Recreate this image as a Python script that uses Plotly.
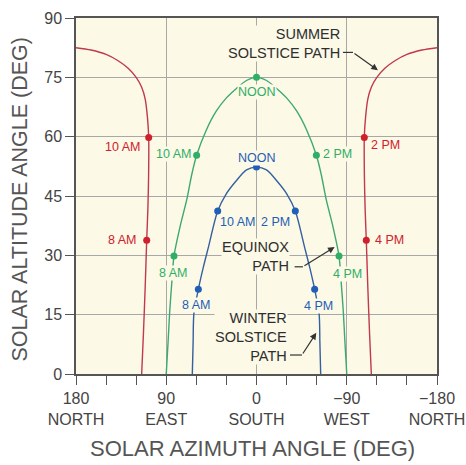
import plotly.graph_objects as go

# ---------------- data ----------------
# Summer solstice path: morning (east) branch and afternoon (west) branch
summer_east_az = [180, 165, 150, 138, 128, 120, 114.5, 111, 108.8, 107.5, 107.6, 108.3, 109.5, 111, 112.8, 114.5]
summer_east_alt = [82.5, 81.9, 80.8, 79.2, 77.3, 75, 72.5, 69.5, 65, 59.8, 50, 42, 33.8, 22, 10, 0]
summer_west_az = [-180, -165, -150, -138, -128, -120, -114.5, -111, -108.8, -107.5, -107.6, -108.3, -109.5, -111, -112.8, -114.5]
summer_west_alt = [82.5, 81.9, 80.8, 79.2, 77.3, 75, 72.5, 69.5, 65, 59.8, 50, 42, 33.8, 22, 10, 0]

# Equinox path
equinox_az = [90, 88.2, 86.5, 84.5, 82.3, 76, 69.6, 64.5, 59.7, 50, 40, 30, 20, 10, 0,
              -10, -20, -30, -40, -50, -59.7, -64.5, -69.6, -76, -82.3, -84.5, -86.5, -88.2, -90]
equinox_alt = [0, 8, 16, 23, 29.8, 37.5, 44, 50.5, 55.3, 61.7, 66.5, 69.8, 72.2, 74.2, 75,
               74.2, 72.2, 69.8, 66.5, 61.7, 55.3, 50.5, 44, 37.5, 29.8, 23, 16, 8, 0]

# Winter solstice path
winter_az = [64, 63.2, 62.4, 58, 53, 48, 38.7, 30, 21, 10, 0,
             -10, -21, -30, -38.7, -48, -53, -58, -62.4, -63.2, -64]
winter_alt = [0, 8, 15.4, 21.4, 27, 32, 41.2, 45.6, 48.6, 51.6, 52.3,
              51.6, 48.6, 45.6, 41.2, 32, 27, 21.4, 15.4, 8, 0]

# Hour markers
summer_mk_az = [107.5, 109.5, -107.5, -109.5]
summer_mk_alt = [59.8, 33.8, 59.8, 33.8]
summer_mk_txt = ["10 AM", "8 AM", "2 PM", "4 PM"]

equinox_mk_az = [0, 59.7, -59.7, 82.3, -82.3]
equinox_mk_alt = [75, 55.3, 55.3, 29.8, 29.8]
equinox_mk_txt = ["NOON", "10 AM", "2 PM", "8 AM", "4 PM"]

winter_mk_az = [0, 38.7, -38.7, 58, -58]
winter_mk_alt = [52.3, 41.2, 41.2, 21.4, 21.4]
winter_mk_txt = ["NOON", "10 AM", "2 PM", "8 AM", "4 PM"]

# Axis ticks
x_tickvals = [180, 90, 0, -90, -180]
x_ticktext = ["180<br>NORTH", "90<br>EAST", "0<br>SOUTH", "\u221290<br>WEST", "\u2212180<br>NORTH"]
y_tickvals = [0, 15, 30, 45, 60, 75, 90]

# ---------------- styles ----------------
RED_L, RED_M = "#c0394c", "#d0202e"
GRN_L, GRN_M = "#3ea872", "#2fae66"
BLU_L, BLU_M = "#35609f", "#1f5fb5"
PLOT_BG = "#fcf9e7"
FONT = "Liberation Sans, Arial, sans-serif"

# label offsets per (series, label): (xanchor, xshift, yshift)
label_pos = {
    ("s", "10 AM"): ("right", -8, -10), ("s", "8 AM"): ("right", -9, 0),
    ("s", "2 PM"): ("left", 6, -8), ("s", "4 PM"): ("left", 8, 0),
    ("e", "NOON"): ("center", 0, -15), ("e", "10 AM"): ("right", -5, 1),
    ("e", "2 PM"): ("left", 6, 1), ("e", "8 AM"): ("center", 0, -17),
    ("e", "4 PM"): ("center", 8, -18),
    ("w", "NOON"): ("center", 0, 9), ("w", "10 AM"): ("left", 1, -11),
    ("w", "2 PM"): ("right", -4, -11), ("w", "8 AM"): ("center", -2, -16),
    ("w", "4 PM"): ("center", 4, -17),
}

fig = go.Figure()

def path(az, alt, color):
    fig.add_trace(go.Scatter(x=az, y=alt, mode="lines",
                             line=dict(color=color, width=1.4, shape="spline", smoothing=0.8),
                             hoverinfo="skip", showlegend=False))

def markers(az, alt, color):
    fig.add_trace(go.Scatter(x=az, y=alt, mode="markers",
                             marker=dict(color=color, size=7),
                             hoverinfo="skip", showlegend=False))

path(summer_east_az, summer_east_alt, RED_L)
path(summer_west_az, summer_west_alt, RED_L)
path(equinox_az, equinox_alt, GRN_L)
path(winter_az, winter_alt, BLU_L)
markers(summer_mk_az, summer_mk_alt, RED_M)
markers(equinox_mk_az, equinox_mk_alt, GRN_M)
markers(winter_mk_az, winter_mk_alt, BLU_M)

annotations = []
for key, azs, alts, txts, col in [("s", summer_mk_az, summer_mk_alt, summer_mk_txt, RED_M),
                                  ("e", equinox_mk_az, equinox_mk_alt, equinox_mk_txt, GRN_M),
                                  ("w", winter_mk_az, winter_mk_alt, winter_mk_txt, BLU_M)]:
    for a, h, t in zip(azs, alts, txts):
        xa, xs, ys = label_pos[(key, t)]
        annotations.append(dict(x=a, y=h, xref="x", yref="y", text=t, showarrow=False,
                                xanchor=xa, yanchor="middle", xshift=xs, yshift=ys,
                                font=dict(family=FONT, size=12.5, color=col),
                                bgcolor=PLOT_BG, borderpad=0))

big_font = dict(family=FONT, size=14.5, color="#2e2e2e")
for txt, ax_, ay_ in [("SUMMER<br>SOLSTICE PATH", -84.2, 83.6),
                      ("EQUINOX<br>PATH", -33.4, 29.6),
                      ("WINTER<br>SOLSTICE<br>PATH", -31.4, 9.4)]:
    annotations.append(dict(x=ax_, y=ay_, xref="x", yref="y", text=txt, showarrow=False,
                            xanchor="right", yanchor="middle", align="right",
                            font=big_font, bgcolor=PLOT_BG, borderpad=0))

# leader lines: short horizontal then arrow
leaders = [((-86.2, 81.3), (-96.2, 81.3), (-121.1, 76.8)),
           ((-38.0, 27.1), (-46.3, 27.1), (-77.9, 32.1)),
           ((-33.4, 4.8), (-45.3, 4.8), (-59.6, 10.4))]
shapes = []
for p0, p1, head in leaders:
    shapes.append(dict(type="line", xref="x", yref="y", x0=p0[0], y0=p0[1], x1=p1[0], y1=p1[1],
                       line=dict(color="#333333", width=1.2)))
    annotations.append(dict(x=head[0], y=head[1], ax=p1[0], ay=p1[1], xref="x", yref="y",
                            axref="x", ayref="y", text="", showarrow=True,
                            arrowhead=2, arrowsize=1.1, arrowwidth=1.2, arrowcolor="#333333",
                            standoff=0, startstandoff=0))

# axis titles
annotations.append(dict(x=0.49, y=-0.208, xref="paper", yref="paper",
                        text="SOLAR AZIMUTH ANGLE (DEG)", showarrow=False,
                        xanchor="center", yanchor="middle",
                        font=dict(family=FONT, size=22, color="#555555")))
annotations.append(dict(x=-0.155, y=0.49, xref="paper", yref="paper",
                        text="SOLAR ALTITUDE ANGLE (DEG)", showarrow=False, textangle=-90,
                        xanchor="center", yanchor="middle",
                        font=dict(family=FONT, size=21.5, color="#555555")))

fig.update_layout(
    width=466, height=465,
    margin=dict(l=76, r=29, t=18, b=91),
    paper_bgcolor="white", plot_bgcolor=PLOT_BG,
    showlegend=False,
    annotations=annotations, shapes=shapes,
    font=dict(family=FONT),
)
fig.update_xaxes(range=[180, -180], tickmode="array", tickvals=x_tickvals, ticktext=x_ticktext,
                 ticks="outside", ticklen=9, tickcolor="#555555", tickwidth=1.3,
                 tickfont=dict(family=FONT, size=16, color="#444444"),
                 showgrid=True, gridcolor="#a8a8a8", gridwidth=1,
                 showline=True, linecolor="#555555", linewidth=1.5, mirror=True,
                 zeroline=False, automargin=False,
                 minor=dict(tickmode="linear", tick0=0, dtick=30, ticks="outside", ticklen=9,
                            tickcolor="#555555", tickwidth=1.3, showgrid=False))
fig.update_yaxes(range=[0, 90], tickmode="array", tickvals=y_tickvals,
                 ticks="outside", ticklen=9, tickcolor="#555555", tickwidth=1.3,
                 tickfont=dict(family=FONT, size=16, color="#444444"),
                 showgrid=True, gridcolor="#a8a8a8", gridwidth=1,
                 showline=True, linecolor="#555555", linewidth=1.5, mirror=True,
                 zeroline=False, automargin=False)

fig.write_html("out.html",
               config={"displayModeBar": False},
               post_script="document.body.style.margin='0';document.body.style.overflow='hidden';")
